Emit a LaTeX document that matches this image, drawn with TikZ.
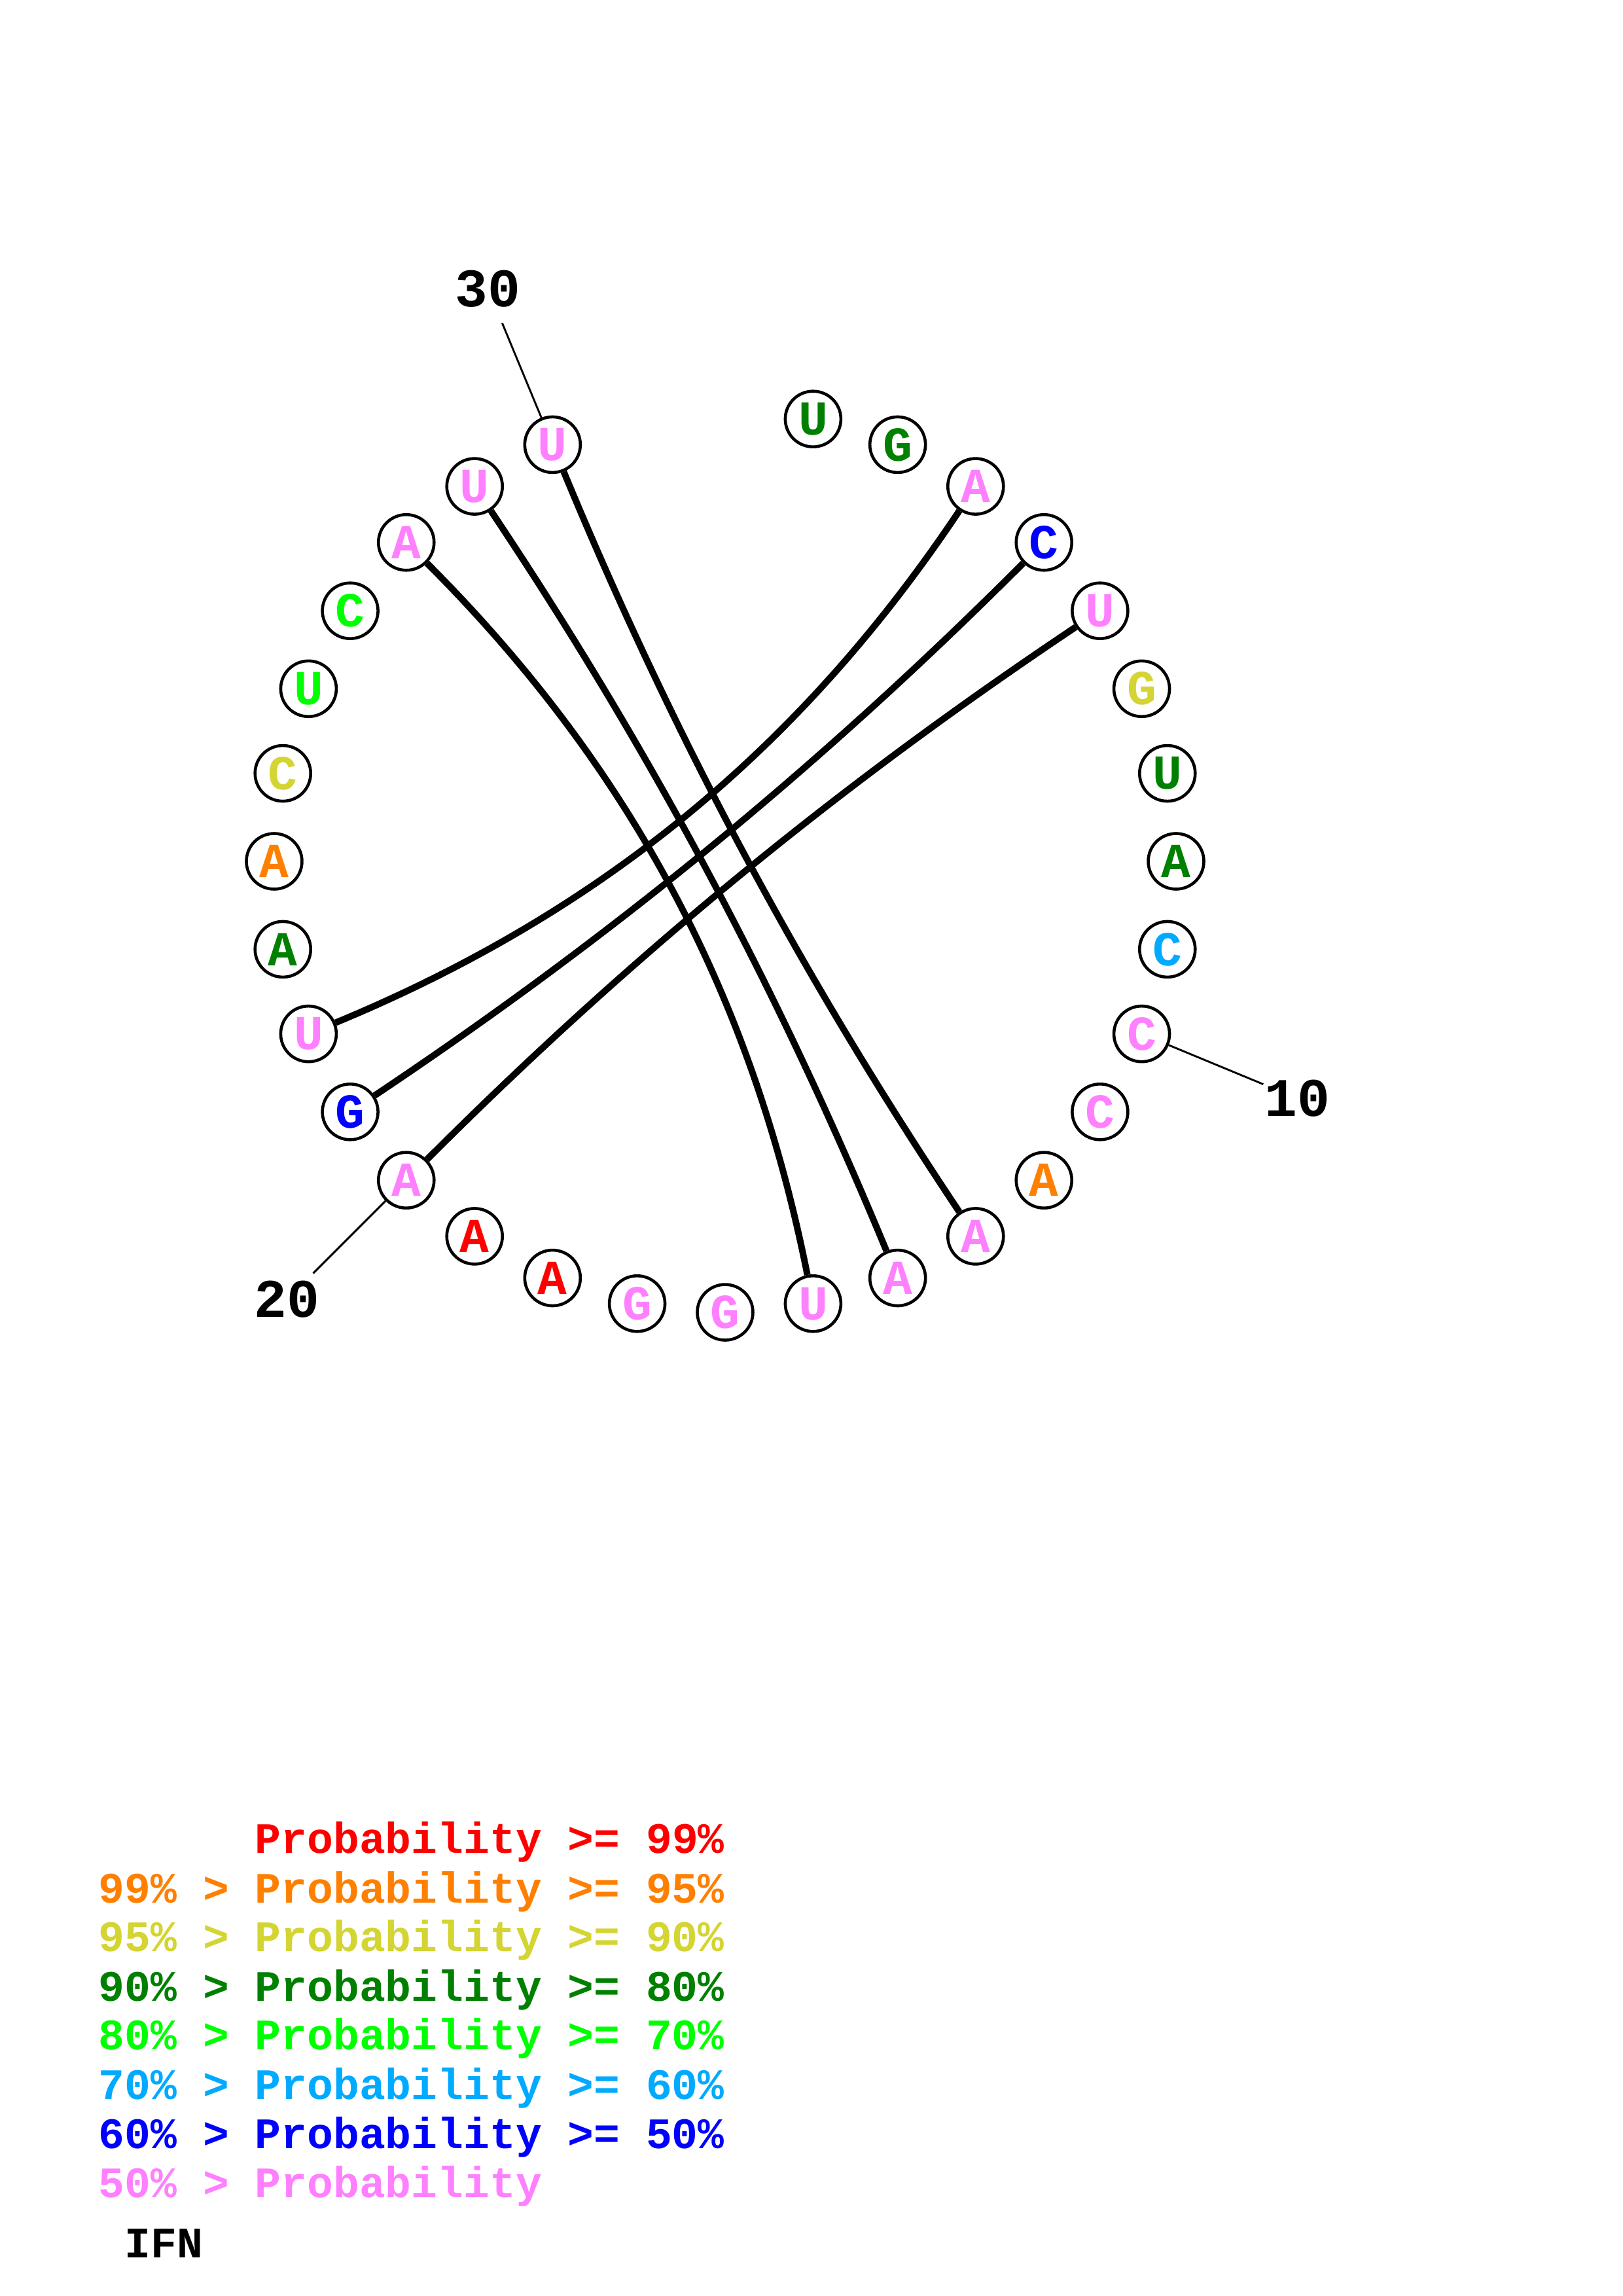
\documentclass[tikz,border=0pt]{standalone}
\usepackage{fontspec}
\setmonofont{Liberation Mono}
\usetikzlibrary{calc}
\definecolor{pred}{HTML}{FF0000}
\definecolor{porange}{HTML}{FF8000}
\definecolor{pyellow}{HTML}{D4D432}
\definecolor{pdkgreen}{HTML}{008000}
\definecolor{pgreen}{HTML}{00FF00}
\definecolor{pltblue}{HTML}{00AAFF}
\definecolor{pblue}{HTML}{0000FF}
\definecolor{ppink}{HTML}{FF80FF}

\begin{document}
\begin{tikzpicture}[base node/.style={circle,draw,line width=1.1pt,minimum size=0.72cm,inner sep=0pt,font=\ttfamily\bfseries\fontsize{18}{18}\selectfont},
    pair line/.style={line width=2.4pt},
    tick line/.style={line width=0.7pt},
    num label/.style={inner sep=0pt,font=\ttfamily\bfseries\fontsize{20}{20}\selectfont},
    legend text/.style={anchor=base west,inner sep=0pt,font=\ttfamily\bfseries\fontsize{16}{16}\selectfont}]
  \useasboundingbox (0,0) rectangle (21,-29.717);
  \begin{scope}[shift={(9.386,-11.148)}]
    \coordinate (o) at (0,0);
    % bases, clockwise from the top
    \node[base node,text=pdkgreen] (n1) at (78.75:5.837) {U};
    \node[base node,text=pdkgreen] (n2) at (67.5:5.837) {G};
    \node[base node,text=ppink] (n3) at (56.25:5.837) {A};
    \node[base node,text=pblue] (n4) at (45:5.837) {C};
    \node[base node,text=ppink] (n5) at (33.75:5.837) {U};
    \node[base node,text=pyellow] (n6) at (22.5:5.837) {G};
    \node[base node,text=pdkgreen] (n7) at (11.25:5.837) {U};
    \node[base node,text=pdkgreen] (n8) at (0:5.837) {A};
    \node[base node,text=pltblue] (n9) at (-11.25:5.837) {C};
    \node[base node,text=ppink] (n10) at (-22.5:5.837) {C};
    \node[base node,text=ppink] (n11) at (-33.75:5.837) {C};
    \node[base node,text=porange] (n12) at (-45:5.837) {A};
    \node[base node,text=ppink] (n13) at (-56.25:5.837) {A};
    \node[base node,text=ppink] (n14) at (-67.5:5.837) {A};
    \node[base node,text=ppink] (n15) at (-78.75:5.837) {U};
    \node[base node,text=ppink] (n16) at (-90:5.837) {G};
    \node[base node,text=ppink] (n17) at (-101.25:5.837) {G};
    \node[base node,text=pred] (n18) at (-112.5:5.837) {A};
    \node[base node,text=pred] (n19) at (-123.75:5.837) {A};
    \node[base node,text=ppink] (n20) at (-135:5.837) {A};
    \node[base node,text=pblue] (n21) at (-146.25:5.837) {G};
    \node[base node,text=ppink] (n22) at (-157.5:5.837) {U};
    \node[base node,text=pdkgreen] (n23) at (-168.75:5.837) {A};
    \node[base node,text=porange] (n24) at (-180:5.837) {A};
    \node[base node,text=pyellow] (n25) at (-191.25:5.837) {C};
    \node[base node,text=pgreen] (n26) at (-202.5:5.837) {U};
    \node[base node,text=pgreen] (n27) at (-213.75:5.837) {C};
    \node[base node,text=ppink] (n28) at (-225:5.837) {A};
    \node[base node,text=ppink] (n29) at (-236.25:5.837) {U};
    \node[base node,text=ppink] (n30) at (-247.5:5.837) {U};
    % pairs
    \draw[pair line] (n3) .. controls ($(n3.center)!0.7!(o)$) and ($(n22.center)!0.7!(o)$) .. (n22);
    \draw[pair line] (n4) .. controls ($(n4.center)!0.7!(o)$) and ($(n21.center)!0.7!(o)$) .. (n21);
    \draw[pair line] (n5) .. controls ($(n5.center)!0.7!(o)$) and ($(n20.center)!0.7!(o)$) .. (n20);
    \draw[pair line] (n28) .. controls ($(n28.center)!0.7!(o)$) and ($(n15.center)!0.7!(o)$) .. (n15);
    \draw[pair line] (n29) .. controls ($(n29.center)!0.7!(o)$) and ($(n14.center)!0.7!(o)$) .. (n14);
    \draw[pair line] (n30) .. controls ($(n30.center)!0.7!(o)$) and ($(n13.center)!0.7!(o)$) .. (n13);
    % numbering
    \coordinate (t10) at (-22.5:7.54);
    \coordinate (t20) at (-135:7.54);
    \coordinate (t30) at (-247.5:7.54);
    \node[num label] (l10) at (-22.5:8.02) {10};
    \node[num label] (l20) at (-135:8.02) {20};
    \node[num label] (l30) at (-247.5:8.02) {30};
    \draw[tick line] (n10) -- (t10);
    \draw[tick line] (n20) -- (t20);
    \draw[tick line] (n30) -- (t30);
  \end{scope}
  % legend
  \node[legend text,text=pred] (k1) at (1.27,-23.99) {\phantom{99\% > }Probability >= 99\%};
  \node[legend text,text=porange] (k2) at (1.27,-24.63) {99\% > Probability >= 95\%};
  \node[legend text,text=pyellow] (k3) at (1.27,-25.26) {95\% > Probability >= 90\%};
  \node[legend text,text=pdkgreen] (k4) at (1.27,-25.90) {90\% > Probability >= 80\%};
  \node[legend text,text=pgreen] (k5) at (1.27,-26.53) {80\% > Probability >= 70\%};
  \node[legend text,text=pltblue] (k6) at (1.27,-27.17) {70\% > Probability >= 60\%};
  \node[legend text,text=pblue] (k7) at (1.27,-27.81) {60\% > Probability >= 50\%};
  \node[legend text,text=ppink] (k8) at (1.27,-28.44) {50\% > Probability};
  \node[legend text] (ifn) at (1.61,-29.22) {IFN};
\end{tikzpicture}
\end{document}
